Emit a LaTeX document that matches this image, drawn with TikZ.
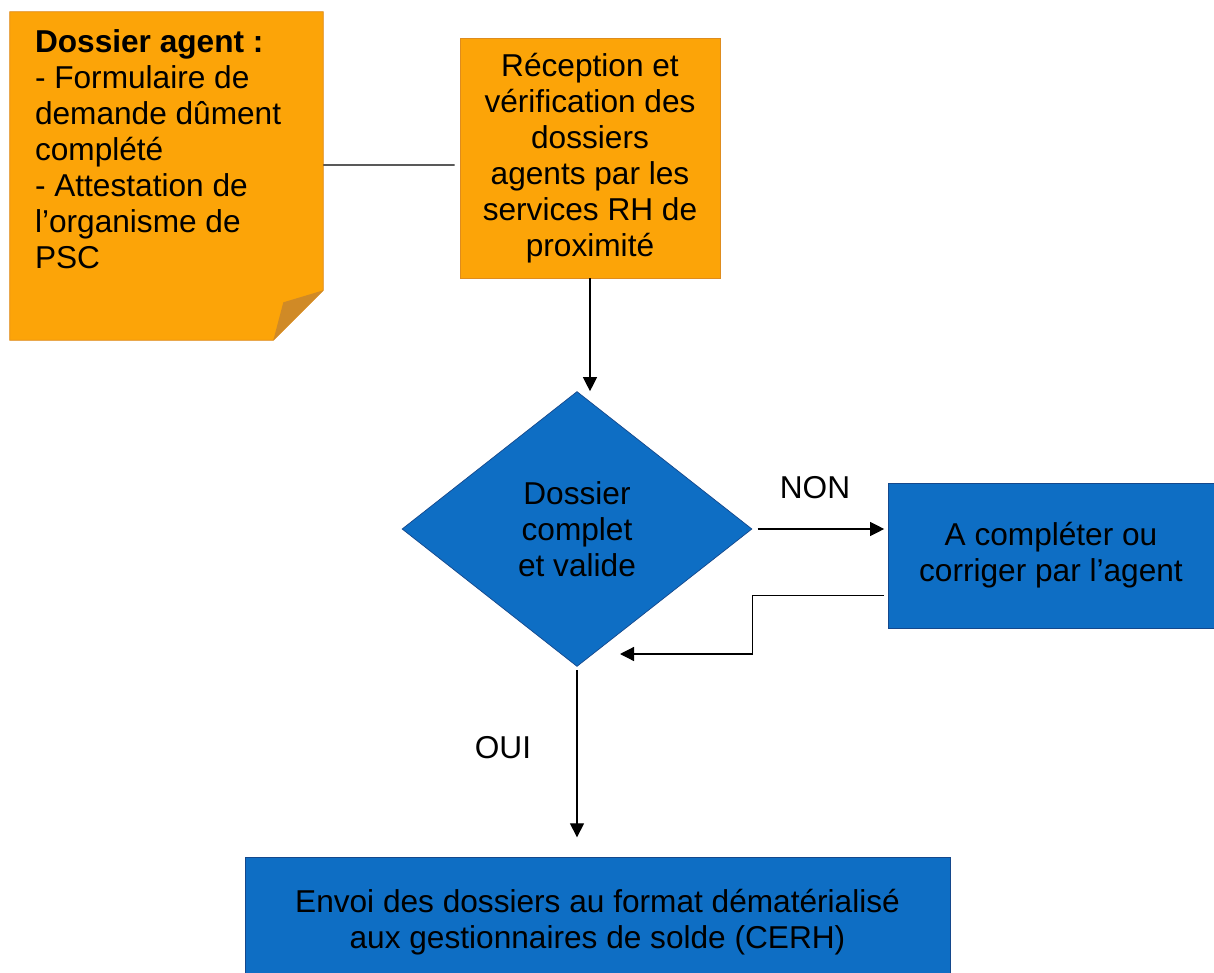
\documentclass[tikz,border=0pt]{standalone}
\usepackage{fontspec}
\setmainfont{Liberation Sans}
\usetikzlibrary{shapes.geometric,arrows.meta,backgrounds}
\definecolor{orangebox}{RGB}{252,164,8}
\definecolor{orangeline}{RGB}{222,140,30}
\definecolor{orangefold}{RGB}{208,138,38}
\definecolor{bluebox}{RGB}{14,110,196}
\definecolor{blueline}{RGB}{20,72,140}
\begin{document}
\begin{tikzpicture}[x=.02cm,y=-.02cm,
 every node/.style={font=\fontsize{18}{20.5}\selectfont},
 boite/.style={draw=orangeline,fill=orangebox,align=center,inner sep=0pt},
 etape/.style={draw=blueline,fill=bluebox,align=center,inner sep=0pt},
 test/.style={diamond,draw=blueline,fill=bluebox,align=center,inner sep=0pt,
 minimum width=7cm,minimum height=5.5cm},
 fleche/.style={line width=.7pt,-{Triangle[width=8pt,length=8pt]}},
 ]
 \useasboundingbox (0,0) rectangle (1214,973);
 \path
 (166.5,176) node[inner xsep=.5cm,inner ysep=.35cm] (note) % <<< note
 {\parbox[c][5.86cm][t]{5.26cm}{\raggedright\textbf{Dossier agent :}\\
 - Formulaire de\\demande dûment\\complété\\- Attestation de\\l’organisme de\\PSC}}
 (590,158) node[boite,minimum width=5.2cm,minimum height=4.8cm] (recep)
 {Réception et\\vérification des\\dossiers\\agents par les\\services RH de\\proximité}
 (577,529) node[test] (diam) {Dossier\\complet\\et valide} % <<< test
 (1051,555.5) node[etape,minimum width=6.52cm,minimum height=2.9cm] (fix)
 {A compléter ou\\corriger par l’agent}
 (597.5,922) node[etape,minimum width=14.1cm,minimum height=2.6cm] (envoi)
 {Envoi des dossiers au format dématérialisé\\aux gestionnaires de solde (CERH)}
 (815,488) node (non) {NON}
 (503,748) node (oui) {OUI}
 (620,654) coordinate (retour);
 \begin{scope}[on background layer]
 \filldraw[draw=orangeline,fill=orangebox]
 (note.north west) -- (note.north east) -- ([yshift=1cm]note.south east)
 -- ([xshift=-1cm]note.south east) -- (note.south west) -- cycle;
 \fill[orangefold] ([yshift=1cm]note.south east)
 -- ([xshift=-.8cm,yshift=.76cm]note.south east) -- ([xshift=-1cm]note.south east) -- cycle;
 \end{scope}
 \draw[line width=.7pt] ([yshift=.22cm]note.east) -- ([xshift=-.1cm,yshift=-.14cm]recep.west);
 \draw[fleche] (recep.south) -- (recep.south |- diam.north);
 \draw[fleche,shorten <=3pt,shorten >=2pt] (diam.east) -- (diam.east -| fix.west);
 \draw[fleche,shorten <=2pt] ([yshift=-.8cm]fix.west) -- ++(-135,0) |- (retour);
 \draw[fleche,shorten <=2pt,shorten >=11pt] (diam.south) -- (diam.south |- envoi.north);
\end{tikzpicture}
\end{document}
